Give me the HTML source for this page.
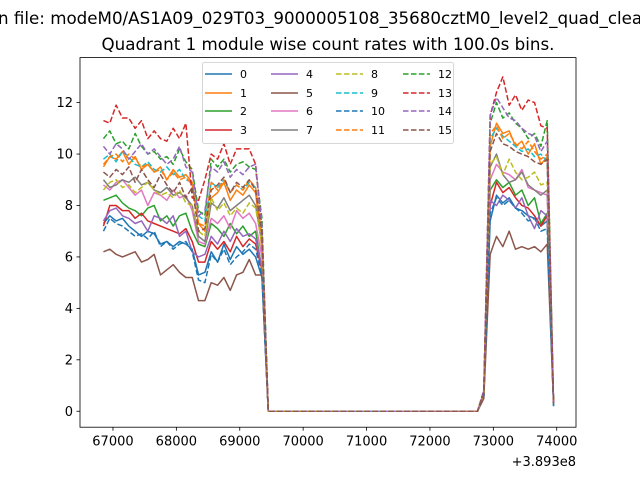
<!DOCTYPE html>
<html><head><meta charset="utf-8"><style>
body{margin:0;background:#fff;}
svg text{font-family:"DejaVu Sans","Liberation Sans",sans-serif;}
</style></head><body>
<svg id="chart" width="640" height="480" xmlns="http://www.w3.org/2000/svg">
<rect width="640" height="480" fill="#fff"/>
<text x="-2" y="24" font-size="16.7">n file: modeM0/AS1A09_029T03_9000005108_35680cztM0_level2_quad_clean.evt</text>
<text x="328" y="50" font-size="16.7" text-anchor="middle">Quadrant 1 module wise count rates with 100.0s bins.</text>
<g id="plot"></g>
</svg>
<script>
const leftVals = [
[7.3,7.6,7.4,7.5,7.2,7.0,6.8,7.0,6.9,6.5,6.6,6.4,6.6,6.5,6.3,5.3,5.4,6.2,5.8,6.5,5.9,6.4,6.1,6.3,6.0,5.2],
[9.5,9.9,9.8,10.1,9.6,9.9,9.4,9.6,9.3,9.5,9.0,9.4,9.1,9.2,8.9,7.3,7.0,8.3,8.5,8.9,8.2,8.6,8.4,8.8,8.5,6.3],
[8.2,8.3,8.4,8.1,7.9,7.8,7.6,7.9,8.0,7.4,7.6,7.2,7.6,7.7,7.0,6.5,6.4,7.3,7.1,6.8,7.3,6.9,7.2,6.8,7.0,5.5],
[7.2,8.0,8.0,7.8,7.8,7.5,7.7,7.4,7.3,7.2,7.1,7.0,6.9,7.1,6.6,5.8,5.8,6.6,6.3,6.6,6.2,6.8,6.4,6.7,6.5,5.5],
[7.4,7.8,7.9,7.6,7.5,7.3,7.4,7.0,7.6,7.5,7.3,7.6,6.8,7.0,6.2,6.0,6.1,6.8,6.5,7.0,6.6,7.1,6.8,6.9,6.7,5.6],
[6.2,6.3,6.1,6.0,6.1,6.2,5.8,5.9,6.1,5.3,5.5,5.7,5.4,5.2,5.2,4.3,4.3,5.0,4.9,5.2,4.7,5.3,5.4,5.9,5.3,5.3],
[8.8,8.6,8.9,9.0,8.7,8.4,8.6,8.0,8.5,8.4,8.2,8.6,8.3,8.4,7.8,6.6,6.5,7.5,7.3,7.6,7.1,7.8,7.5,7.7,7.3,6.0],
[9.0,8.7,8.8,9.0,8.9,9.1,8.8,8.9,8.6,8.5,8.7,8.4,8.5,8.3,8.0,6.8,6.6,8.1,7.9,8.3,7.8,8.0,8.2,8.4,8.0,6.5],
[8.6,8.9,9.0,8.7,8.8,8.5,8.7,8.9,8.6,8.4,8.5,8.3,8.6,8.1,8.0,7.0,6.8,8.3,7.8,8.1,7.6,7.9,7.7,8.1,7.9,6.5],
[9.8,10.0,9.7,10.1,9.9,9.6,9.5,9.7,9.4,9.3,9.5,9.2,9.4,9.0,8.9,7.6,7.4,8.9,8.7,9.0,8.5,8.8,8.6,8.9,8.7,7.0],
[7.0,7.5,7.3,7.2,7.0,6.8,6.9,6.7,7.0,6.4,6.6,6.3,6.5,6.6,6.2,5.1,5.0,6.1,5.8,6.3,5.7,6.0,6.2,6.5,6.3,5.3],
[9.6,9.9,10.0,9.7,10.0,9.8,9.5,9.6,9.3,9.4,9.0,9.3,9.0,9.1,8.8,7.3,7.2,8.9,8.6,9.0,8.5,8.8,8.6,9.0,8.7,6.8],
[10.6,10.9,10.4,10.5,10.2,10.8,10.3,10.0,10.1,9.8,9.9,9.6,10.2,9.7,9.4,7.8,7.6,9.8,9.5,9.8,9.3,9.6,9.7,9.5,9.4,7.5],
[11.3,11.2,11.9,11.4,11.4,11.0,11.3,10.6,10.9,10.6,10.5,11.0,10.6,11.2,8.3,8.2,9.0,10.0,9.8,10.4,9.6,10.2,10.2,10.2,9.6,7.0],
[10.3,10.0,10.4,10.2,9.8,10.1,10.4,10.0,10.2,9.9,9.6,9.8,10.3,9.5,9.3,7.6,7.8,9.5,9.3,9.7,9.1,9.4,9.2,9.5,9.6,7.2],
[9.3,9.1,9.4,9.2,9.5,8.9,9.4,9.0,8.7,9.2,8.8,8.5,8.9,8.3,8.7,7.0,7.1,8.6,8.8,9.1,8.5,8.9,8.7,9.0,8.6,6.9]
];
const gapVals = [0,0,0,0,0,0,0,0,0,0,0,0,0,0,0,0,0,0,0,0,0,0,0,0,0,0,0,0,0,0,0,0,0,0];
const rightVals = [
[0.6,7.4,8.4,8.1,8.3,7.9,7.8,7.6,7.5,7.2,7.4,0.2],
[0.7,10.3,11.2,10.8,10.9,10.3,10.5,10.0,10.4,9.6,9.9,0.3],
[0.6,8.6,9.0,8.7,8.9,8.4,8.6,8.0,8.3,7.3,7.7,0.3],
[0.6,8.0,8.9,8.5,8.7,8.3,8.0,7.9,7.6,7.2,7.6,0.3],
[0.6,8.2,8.0,8.4,8.2,7.9,8.3,7.6,7.1,7.8,7.6,0.3],
[0.5,6.1,6.8,6.4,7.0,6.3,6.4,6.3,6.4,6.2,6.5,0.3],
[0.7,9.0,9.6,9.3,9.2,9.0,9.4,8.7,8.6,8.5,8.4,0.3],
[0.7,9.5,10.0,9.2,8.9,9.0,9.3,8.8,8.6,8.4,8.6,0.3],
[0.7,9.6,9.9,9.2,9.8,9.3,9.0,9.1,9.3,8.8,8.9,0.3],
[0.7,10.6,11.0,10.7,10.5,10.3,10.1,10.2,9.9,10.0,9.7,0.3],
[0.6,7.7,8.3,8.0,8.2,7.9,7.7,7.4,7.5,7.0,7.1,0.2],
[0.7,10.8,11.1,10.6,10.8,10.4,10.2,10.5,10.1,9.8,10.0,0.3],
[0.8,11.2,12.0,11.4,11.6,11.2,11.0,10.6,10.8,10.3,11.3,0.3],
[0.8,11.5,12.4,13.0,11.9,12.3,11.7,12.1,12.0,11.1,11.0,0.3],
[0.8,11.5,12.2,11.8,11.4,11.3,11.0,10.8,10.7,10.1,10.5,0.3],
[0.7,10.1,10.8,10.4,10.3,10.1,10.0,9.9,9.7,9.6,9.8,0.3]
];
const seriesLabels = ["0","1","2","3","4","5","6","7","8","9","10","11","12","13","14","15"];
const xTicks = [67000,68000,69000,70000,71000,72000,73000,74000];
const yTicks = [0,2,4,6,8,10,12];
const startTime = 66850, binSize = 100;

const colors = ["#1f77b4","#ff7f0e","#2ca02c","#d62728","#9467bd","#8c564b","#e377c2","#7f7f7f","#bcbd22","#17becf"];
const L=80,R=576,T=57.6,B=427.2;
const xMin=66480,xMax=74304,yMin=-0.62,yMax=13.75;
const xs=t=>L+(t-xMin)/(xMax-xMin)*(R-L);
const ys=v=>B-(v-yMin)/(yMax-yMin)*(B-T);
const NS="http://www.w3.org/2000/svg";
const g=document.getElementById('plot');
function mk(tag,attrs,parent){const e=document.createElementNS(NS,tag);for(const k in attrs)e.setAttribute(k,attrs[k]);(parent||g).appendChild(e);return e;}

const defs=mk('defs',{});
const cp=mk('clipPath',{id:'clip'},defs);mk('rect',{x:L,y:T,width:R-L,height:B-T},cp);
const lines=mk('g',{'clip-path':'url(#clip)'});

for(let s=0;s<16;s++){
  const vals=leftVals[s].concat(gapVals,rightVals[s]);
  const pts=vals.map((v,i)=>xs(startTime+binSize*i).toFixed(2)+','+ys(v).toFixed(2)).join(' ');
  const p=mk('polyline',{points:pts,fill:'none',stroke:colors[s%10],'stroke-width':1.5,'stroke-linejoin':'round'},lines);
  if(s>=8)p.setAttribute('stroke-dasharray','5.55,2.4');
  
  
}
const frame=mk('rect',{x:L,y:T,width:R-L,height:B-T,fill:'none',stroke:'#000','stroke-width':0.8});



xTicks.forEach(t=>{
  const x=xs(t);
  mk('line',{x1:x,x2:x,y1:B,y2:B+3.5,stroke:'#000','stroke-width':0.8});
  const tx=mk('text',{x:x,y:B+18.5,'font-size':13,'text-anchor':'middle'});
  tx.textContent=t;
  
  
});
yTicks.forEach(v=>{
  const y=ys(v);
  mk('line',{x1:L-3.5,x2:L,y1:y,y2:y,stroke:'#000','stroke-width':0.8});
  const tx=mk('text',{x:L-7,y:y+4.6,'font-size':13,'text-anchor':'end'});
  tx.textContent=v;
  
  
});
const off=mk('text',{x:R,y:466,'font-size':13,'text-anchor':'end'});
off.textContent='+3.893e8';



const lg=mk('g',{});


mk('rect',{x:202.5,y:62.5,width:251,height:81,rx:2,fill:'#fff','fill-opacity':0.8,stroke:'#ccc','stroke-width':0.8},lg);
const colX=[205,271,336,403], rowY=[74,93,111,130];
for(let s=0;s<16;s++){
  const c=Math.floor(s/4), r=s%4;
  const x=colX[c], y=rowY[r];
  const e=mk('g',{},lg);
  
  
  const ln=mk('line',{x1:x,x2:x+27,y1:y,y2:y,stroke:colors[s%10],'stroke-width':1.5},e);
  if(s>=8)ln.setAttribute('stroke-dasharray','5.55,2.4');
  const tx=mk('text',{x:x+35,y:y+4,'font-size':11},e);
  tx.textContent=seriesLabels[s];
}
</script>
</body></html>
